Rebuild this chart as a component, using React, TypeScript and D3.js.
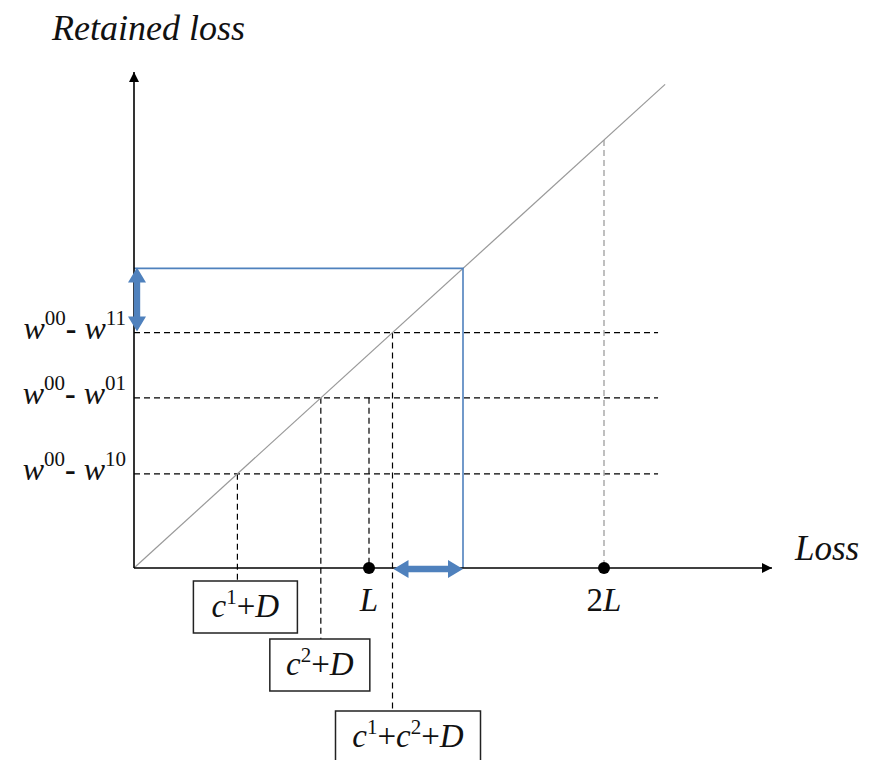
import * as d3 from "d3";
import React from "react";

// thresholds on the retained-loss axis (w^00 - w^xx), in units of L
const thresholdSups = ["11", "01", "10"];
const thresholdValues = [1.1, 0.795, 0.44];

// boxed labels under the loss axis, one per threshold
const boxSups = [["1"], ["2"], ["1", "2"]];
const boxThreshold = [2, 1, 0]; // index into thresholdValues

// points on the loss axis
const markerValues = [1, 2];
const markerLabels = ["L", "2L"];

// the blue square and the line end
const blueCorner = 1.4;
const diagonalEnd = 2.26;

const font = "'Liberation Serif', 'Times New Roman', serif";
const ink = "#111";
const blue = "#4f81bd";

export default function App() {
  const W = 869;
  const H = 760;
  const x = d3.scaleLinear().domain([0, 2]).range([134, 604]);
  const y = d3.scaleLinear().domain([0, 1]).range([568, 354]);
  const x0 = x(0);
  const y0 = y(0);
  const lineEnd = x(2.23);

  const diag = d3.line<number>().x((d) => x(d)).y((d) => y(d))([0, diagonalEnd]) || "";

  // box layout (pixels below the axis)
  const boxTop = [581, 639, 711];
  const boxWidth = [104, 100, 145];
  const boxOffset = [-44, -51, -57];
  const boxH = 52;

  const bx = x(blueCorner);
  const by = y(blueCorner);

  // double arrow shape: shaft half-width s, head half-width h, head length k
  const s = 3.2;
  const h = 9;
  const k = 15;

  return (
    <svg width={W} height={H} style={{ display: "block", position: "absolute", left: 0, top: 0 }}>
      <defs>
        <marker id="ah" viewBox="0 0 10 10" refX="10" refY="5" markerWidth="10" markerHeight="10" markerUnits="userSpaceOnUse" orient="auto">
          <path d="M0,0 L10,5 L0,10 z" fill="#000" />
        </marker>
      </defs>

      {/* axis titles */}
      <text x={52} y={40} fontFamily={font} fontStyle="italic" fontSize={36} fill={ink}>Retained loss</text>
      <text x={795} y={560} fontFamily={font} fontStyle="italic" fontSize={35} fill={ink}>Loss</text>

      {/* dashed horizontal thresholds */}
      {thresholdValues.map((v, i) => (
        <line key={"h" + i} x1={x0} x2={lineEnd} y1={y(v)} y2={y(v)} stroke="#000" strokeWidth={1.2} strokeDasharray="6,4" />
      ))}

      {/* dashed verticals down to boxes */}
      {boxThreshold.map((t, i) => (
        <line key={"v" + i} x1={x(thresholdValues[t])} x2={x(thresholdValues[t])} y1={y(thresholdValues[t])} y2={boxTop[i]} stroke="#000" strokeWidth={1.2} strokeDasharray="6,4" />
      ))}

      {/* L vertical */}
      <line x1={x(markerValues[0])} x2={x(markerValues[0])} y1={y(thresholdValues[1])} y2={y0} stroke="#000" strokeWidth={1.2} strokeDasharray="6,4" />
      {/* 2L vertical, gray */}
      <line x1={x(markerValues[1])} x2={x(markerValues[1])} y1={y(markerValues[1])} y2={y0} stroke="#aaa" strokeWidth={1.5} strokeDasharray="6,4" />

      {/* diagonal */}
      <path d={diag} stroke="#999" strokeWidth={1.2} fill="none" />

      {/* blue square */}
      <polyline points={`${x0},${by} ${bx},${by} ${bx},${y0}`} fill="none" stroke={blue} strokeWidth={1.6} />

      {/* axes */}
      <line x1={x0} y1={y0} x2={x0} y2={72} stroke="#000" strokeWidth={1.6} markerEnd="url(#ah)" />
      <line x1={x0} y1={y0} x2={772} y2={y0} stroke="#000" strokeWidth={1.6} markerEnd="url(#ah)" />

      {/* blue double arrows */}
      <g fill={blue}>
        {(() => {
          const cx = x0 + 3;
          const t = by - 1;
          const b = y(thresholdValues[0]) - 1;
          return <path d={`M${cx},${t} L${cx + h},${t + k} L${cx + s},${t + k} L${cx + s},${b - k} L${cx + h},${b - k} L${cx},${b} L${cx - h},${b - k} L${cx - s},${b - k} L${cx - s},${t + k} L${cx - h},${t + k} Z`} />;
        })()}
        {(() => {
          const cy = y0 + 1;
          const l = x(thresholdValues[0]) + 1;
          const r = bx;
          return <path d={`M${l},${cy} L${l + k},${cy - h} L${l + k},${cy - s} L${r - k},${cy - s} L${r - k},${cy - h} L${r},${cy} L${r - k},${cy + h} L${r - k},${cy + s} L${l + k},${cy + s} L${l + k},${cy + h} Z`} />;
        })()}
      </g>

      {/* markers */}
      {markerValues.map((v, i) => (
        <g key={"m" + i}>
          <circle cx={x(v)} cy={y0} r={6} fill="#000" />
          <text x={x(v)} y={611} textAnchor="middle" fontFamily={font} fontStyle="italic" fontSize={33} fill={ink}>
            {markerLabels[i].startsWith("2") ? (
              <>
                <tspan fontStyle="normal">2</tspan>
                <tspan>L</tspan>
              </>
            ) : (
              markerLabels[i]
            )}
          </text>
        </g>
      ))}

      {/* y labels */}
      {thresholdValues.map((v, i) => (
        <text key={"yl" + i} x={126} y={y(v) + 6} textAnchor="end" fontFamily={font} fontSize={32} fill={ink}>
          <tspan fontStyle="italic">w</tspan>
          <tspan fontSize={21} dy={-14}>00</tspan>
          <tspan dy={14} fontWeight="bold">-</tspan>
          <tspan fontStyle="italic"> w</tspan>
          <tspan fontSize={21} dy={-14}>{thresholdSups[i]}</tspan>
        </text>
      ))}

      {/* boxes */}
      {boxThreshold.map((t, i) => {
        const lx = x(thresholdValues[t]);
        const left = lx + boxOffset[i];
        const sups = boxSups[i];
        return (
          <g key={"b" + i}>
            <rect x={left} y={boxTop[i]} width={boxWidth[i]} height={boxH} fill="#fff" stroke="#222" strokeWidth={1.5} />
            <text x={left + boxWidth[i] / 2} y={boxTop[i] + 36} textAnchor="middle" fontFamily={font} fontSize={33} fill={ink}>
              {sups.map((s2, j) => (
                <React.Fragment key={j}>
                  <tspan fontStyle="italic">c</tspan>
                  <tspan fontSize={21} dy={-13}>{s2}</tspan>
                  <tspan dy={13}>+</tspan>
                </React.Fragment>
              ))}
              <tspan fontStyle="italic">D</tspan>
            </text>
          </g>
        );
      })}
    </svg>
  );
}
